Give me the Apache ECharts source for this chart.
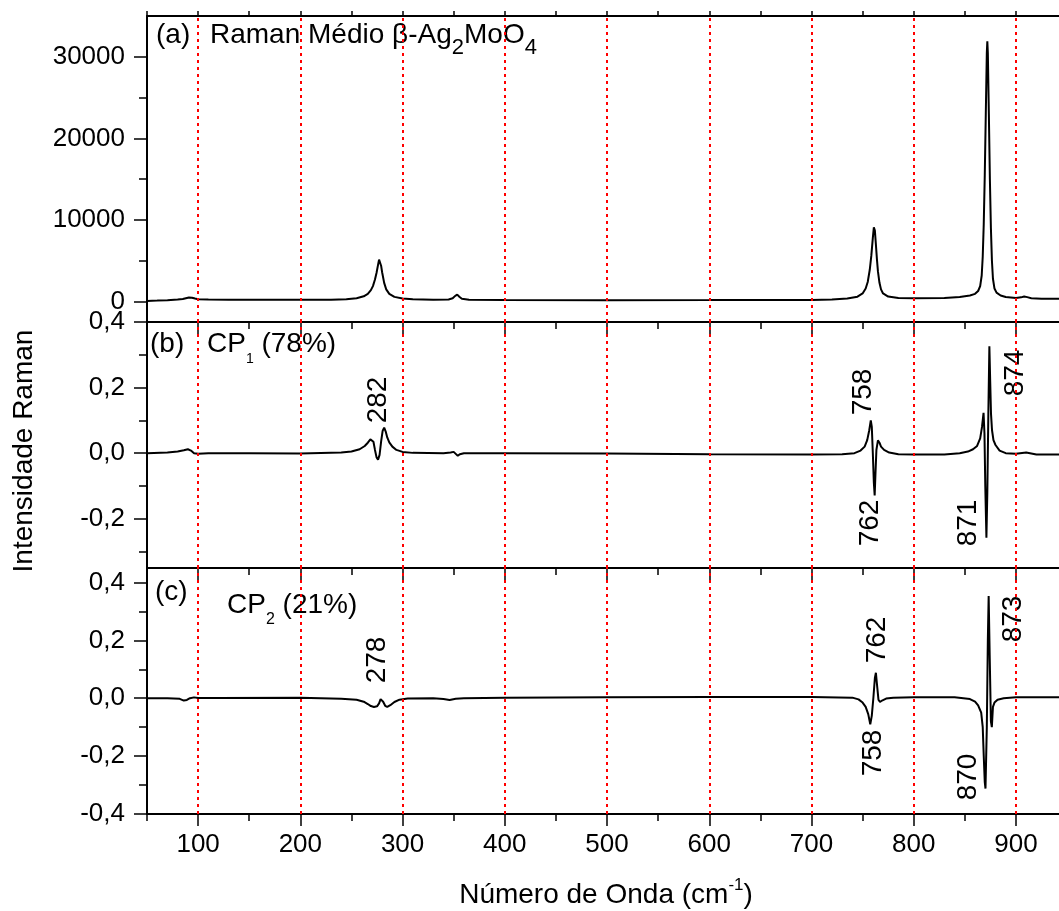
<!DOCTYPE html>
<html><head><meta charset="utf-8">
<script src="https://cdn.jsdelivr.net/npm/echarts@6/dist/echarts.min.js"></script>
<style>html,body{margin:0;padding:0;background:#fff}#c{width:1059px;height:911px}</style>
</head><body><div id="c"></div>
<script>
// ---------- data ----------
const xTickMajor = [100,200,300,400,500,600,700,800,900];
const xTickMinor = [50,150,250,350,450,550,650,750,850];
const redLinesX = [100,200,300,400,500,600,700,800,900];

const aYMajor = [0,10000,20000,30000];
const aYMinor = [5000,15000,25000];
const bYMajor = [-0.2,0,0.2,0.4];
const bYMinor = [-0.3,-0.1,0.1,0.3];
const cYMajor = [-0.4,-0.2,0,0.2,0.4];
const cYMinor = [-0.3,-0.1,0.1,0.3];

// (a) Raman médio
const aX = [50,60,70,80,85,88,91,94,97,100,110,130,150,200,230,245,255,262,266,269,271,273,274.5,276,277,278,279,280,282,284,287,292,300,310,330,345,349,351.5,353.5,355.5,358,365,400,500,600,650,700,720,735,745,750,753,755,757,758.5,760,761,762,763,764,765,766.5,768,770,775,785,800,830,845,855,860,863,865,866.5,867.5,868.5,869.5,870.5,871.5,872,872.5,873.5,874.5,875.5,876.5,877.5,879,881,885,890,900,905,908,911,915,925,947];
const aY = [80,120,180,250,330,420,500,470,380,300,250,240,230,220,240,300,420,650,950,1400,1900,2700,3500,4500,5150,5100,4400,3600,2300,1500,950,580,380,280,230,260,400,700,850,600,350,240,200,180,190,200,210,260,380,600,1000,1600,2400,3900,5600,7800,9100,8700,7000,5200,3700,2300,1500,1000,620,440,400,450,550,750,950,1300,1900,3200,5500,9500,15500,23000,30500,31900,30500,23000,15000,9000,5000,2800,1600,1100,750,560,450,520,620,550,420,360,330];

// (b) CP1
const bX = [50,70,80,86,90,93,96,100,110,150,200,240,250,258,263,266,268.5,270,271.5,273,274.5,276,277.5,279,280.5,282,283.5,285,287,290,294,300,310,340,347,350,352,354,356,360,400,500,600,700,730,742,748,752,754.5,756.5,758,759,760,761,761.8,762.6,763.5,765,766.5,768,771,776,785,800,830,845,853,858,862,865,866.8,868.3,869.2,870,871.1,872,873,874,874.8,875.6,876.6,878,880,884,890,900,910,920,947];
const bY = [0,0.002,0.005,0.009,0.012,0.008,0,-0.002,0,0,-0.001,0.002,0.005,0.012,0.022,0.032,0.042,0.044,0.035,0.01,-0.012,-0.02,-0.005,0.035,0.068,0.078,0.066,0.048,0.033,0.02,0.01,0.004,0.001,0,0.002,0.004,-0.002,-0.008,-0.003,0,0,-0.001,-0.003,-0.004,-0.003,0,0.008,0.02,0.04,0.07,0.1,0.08,0,-0.09,-0.129,-0.06,0.01,0.039,0.032,0.02,0.01,0.002,-0.003,-0.004,-0.004,0,0.005,0.012,0.022,0.045,0.08,0.123,0.06,-0.1,-0.258,-0.12,0.12,0.326,0.22,0.12,0.07,0.04,0.025,0.008,0,-0.002,0.002,-0.004,-0.004];

// (c) CP2
const cX = [50,70,82,86,89,92,96,100,120,200,240,255,262,266,269,272,275,277,278.5,279.5,281,283,285,288,292,297,305,330,340,346,352,360,400,500,600,700,740,746,750,753,755.5,757.5,759,760.5,762,763,764,765.5,767,769,773,780,800,840,855,860,863,866,867.5,868.5,869.5,870.2,871.5,872.5,873.3,874.3,875.5,876.4,877.5,879,882,888,900,947];
const cY = [0,0,-0.002,-0.008,-0.006,0,0.003,0.001,0.001,0.002,-0.002,-0.005,-0.012,-0.02,-0.027,-0.03,-0.028,-0.018,-0.003,0.001,-0.012,-0.026,-0.03,-0.024,-0.013,-0.005,-0.001,0,-0.003,-0.006,-0.002,0,0.002,0.003,0.004,0.004,0.002,-0.004,-0.015,-0.03,-0.055,-0.09,-0.06,0,0.07,0.088,0.05,-0.005,-0.013,-0.008,-0.001,0.002,0.003,0.003,-0.003,-0.012,-0.025,-0.05,-0.1,-0.2,-0.29,-0.312,-0.1,0.2,0.353,0.15,-0.08,-0.1,-0.03,-0.015,-0.005,0,0.003,0.003];

const peakLabelsB = ['282','758','762','871','874'];
const peakLabelsC = ['278','762','758','870','873'];

// ---------- chart ----------
const FONT = "'Liberation Sans', Arial, Helvetica, sans-serif";
const X_MIN = 50, X_MAX = 947;
const grids = [
  {left:147, right:-5, top:16, height:306, outerBoundsMode:'none'},
  {left:147, right:-5, top:322, height:246, outerBoundsMode:'none'},
  {left:147, right:-5, top:568, height:246, outerBoundsMode:'none'}
];
const yRanges = [[-2500,35000],[-0.35,0.4],[-0.4,0.45]];
const yMaj = [aYMajor,bYMajor,cYMajor];
const yMin = [aYMinor,bYMinor,cYMinor];
const seriesData = [[aX,aY],[bX,bY],[cX,cY]];

function fmtY(g){
  return function(v){
    if (g===0) return String(Math.round(v));
    const s = Math.abs(v).toFixed(1).replace('.', ',');
    return (v < -1e-9 ? '-' : '') + s;
  };
}
const lineBlack = {color:'#000', width:2};
const xAxes = [], yAxes = [], series = [];
for (let g=0; g<3; g++){
  const xi = xAxes.length;
  xAxes.push({gridIndex:g, type:'value', min:X_MIN, max:X_MAX, position:'bottom',
    axisLine:{show:true,onZero:false,lineStyle:lineBlack},
    axisTick:{show:true,inside:false,length:12,customValues:xTickMajor,lineStyle:{color:'#000',width:1.5}},
    axisLabel:{show:g===2,customValues:xTickMajor,margin:18,color:'#000',fontSize:26,fontFamily:FONT},
    splitLine:{show:false}, minorTick:{show:false}});
  xAxes.push({gridIndex:g, type:'value', min:X_MIN, max:X_MAX, position:'bottom',
    axisLine:{show:false,onZero:false},
    axisTick:{show:true,inside:false,length:7,customValues:xTickMinor,lineStyle:{color:'#000',width:1.5}},
    axisLabel:{show:false}, splitLine:{show:false}});
  if (g===0){
    xAxes.push({gridIndex:0, type:'value', min:X_MIN, max:X_MAX, position:'top',
      axisLine:{show:true,onZero:false,lineStyle:lineBlack},
      axisTick:{show:true,inside:false,length:5,customValues:xTickMajor.concat(xTickMinor),lineStyle:{color:'#000',width:1.5}},
      axisLabel:{show:false}, splitLine:{show:false}});
  }
  const yi = yAxes.length;
  yAxes.push({gridIndex:g, type:'value', min:yRanges[g][0], max:yRanges[g][1], position:'left',
    axisLine:{show:true,onZero:false,lineStyle:lineBlack},
    axisTick:{show:true,inside:false,length:13,customValues:yMaj[g],lineStyle:{color:'#000',width:1.5}},
    axisLabel:{show:true,customValues:yMaj[g],margin:22,color:'#000',fontSize:26,fontFamily:FONT,formatter:fmtY(g)},
    splitLine:{show:false}});
  yAxes.push({gridIndex:g, type:'value', min:yRanges[g][0], max:yRanges[g][1], position:'left',
    axisLine:{show:false,onZero:false},
    axisTick:{show:true,inside:false,length:8,customValues:yMin[g],lineStyle:{color:'#000',width:1.5}},
    axisLabel:{show:false}, splitLine:{show:false}});
  const xs = seriesData[g][0], ys = seriesData[g][1];
  series.push({type:'line', xAxisIndex:xi, yAxisIndex:yi, showSymbol:false, symbol:'none',
    animation:false, silent:true, lineStyle:{color:'#000', width:2}, z:3,
    data: xs.map((x,i)=>[x, ys[i]]),
    markLine:{silent:true, symbol:'none', animation:false, label:{show:false},
      lineStyle:{color:'#ff0000', type:[3,4], width:2}, emphasis:{disabled:true},
      data: redLinesX.map(v=>({xAxis:v}))}
  });
}

// text helpers
const mctx = document.createElement('canvas').getContext('2d');
function tw(t, s){ mctx.font = s+'px '+FONT; return mctx.measureText(t).width; }
function textRow(x, y, parts, center){
  let total = parts.reduce((a,p)=>a+tw(p.t,p.s),0);
  let cx = center ? x - total/2 : x;
  const out = [];
  parts.forEach(p=>{
    out.push({type:'text', x:cx, y:y+(p.dy||0), silent:true,
      style:{text:p.t, fill:'#000', font:p.s+'px '+FONT, align:'left', verticalAlign:'middle'}});
    cx += tw(p.t,p.s);
  });
  return out;
}
function rotText(t, x, y, s){
  return {type:'text', x:x, y:y, rotation:Math.PI/2, silent:true,
    style:{text:t, fill:'#000', font:s+'px '+FONT, align:'center', verticalAlign:'middle'}};
}

let graphics = [];
graphics = graphics.concat(textRow(156, 35, [{t:'(a)', s:28}]));
graphics = graphics.concat(textRow(210, 35, [
  {t:'Raman Médio β-Ag', s:28},{t:'2', s:22, dy:13},{t:'MoO', s:28},{t:'4', s:22, dy:13}]));
graphics = graphics.concat(textRow(150, 344, [{t:'(b)', s:28}]));
graphics = graphics.concat(textRow(207, 344, [{t:'CP', s:28},{t:'1', s:14, dy:15},{t:' (78%)', s:28}]));
graphics = graphics.concat(textRow(155, 592, [{t:'(c)', s:28}]));
graphics = graphics.concat(textRow(227, 605, [{t:'CP', s:28},{t:'2', s:16, dy:15},{t:' (21%)', s:28}]));
// peak labels
const posB = [[378,400],[863,392],[870,523],[968,523],[1015,373]];
const posC = [[377,660],[877,640],[873,753],[968,777],[1013,619]];
peakLabelsB.forEach((t,i)=>graphics.push(rotText(t,posB[i][0],posB[i][1],28)));
peakLabelsC.forEach((t,i)=>graphics.push(rotText(t,posC[i][0],posC[i][1],28)));
// axis titles
graphics.push(rotText('Intensidade Raman', 24, 451, 28));
graphics = graphics.concat(textRow(606, 895, [{t:'Número de Onda (cm', s:28},{t:'-1', s:17, dy:-10},{t:')', s:28}], true));

const chart = echarts.init(document.getElementById('c'), null, {renderer:'canvas'});
chart.setOption({
  animation:false,
  backgroundColor:'#ffffff',
  grid: grids,
  xAxis: xAxes,
  yAxis: yAxes,
  series: series,
  graphic: graphics
});
</script></body></html>
